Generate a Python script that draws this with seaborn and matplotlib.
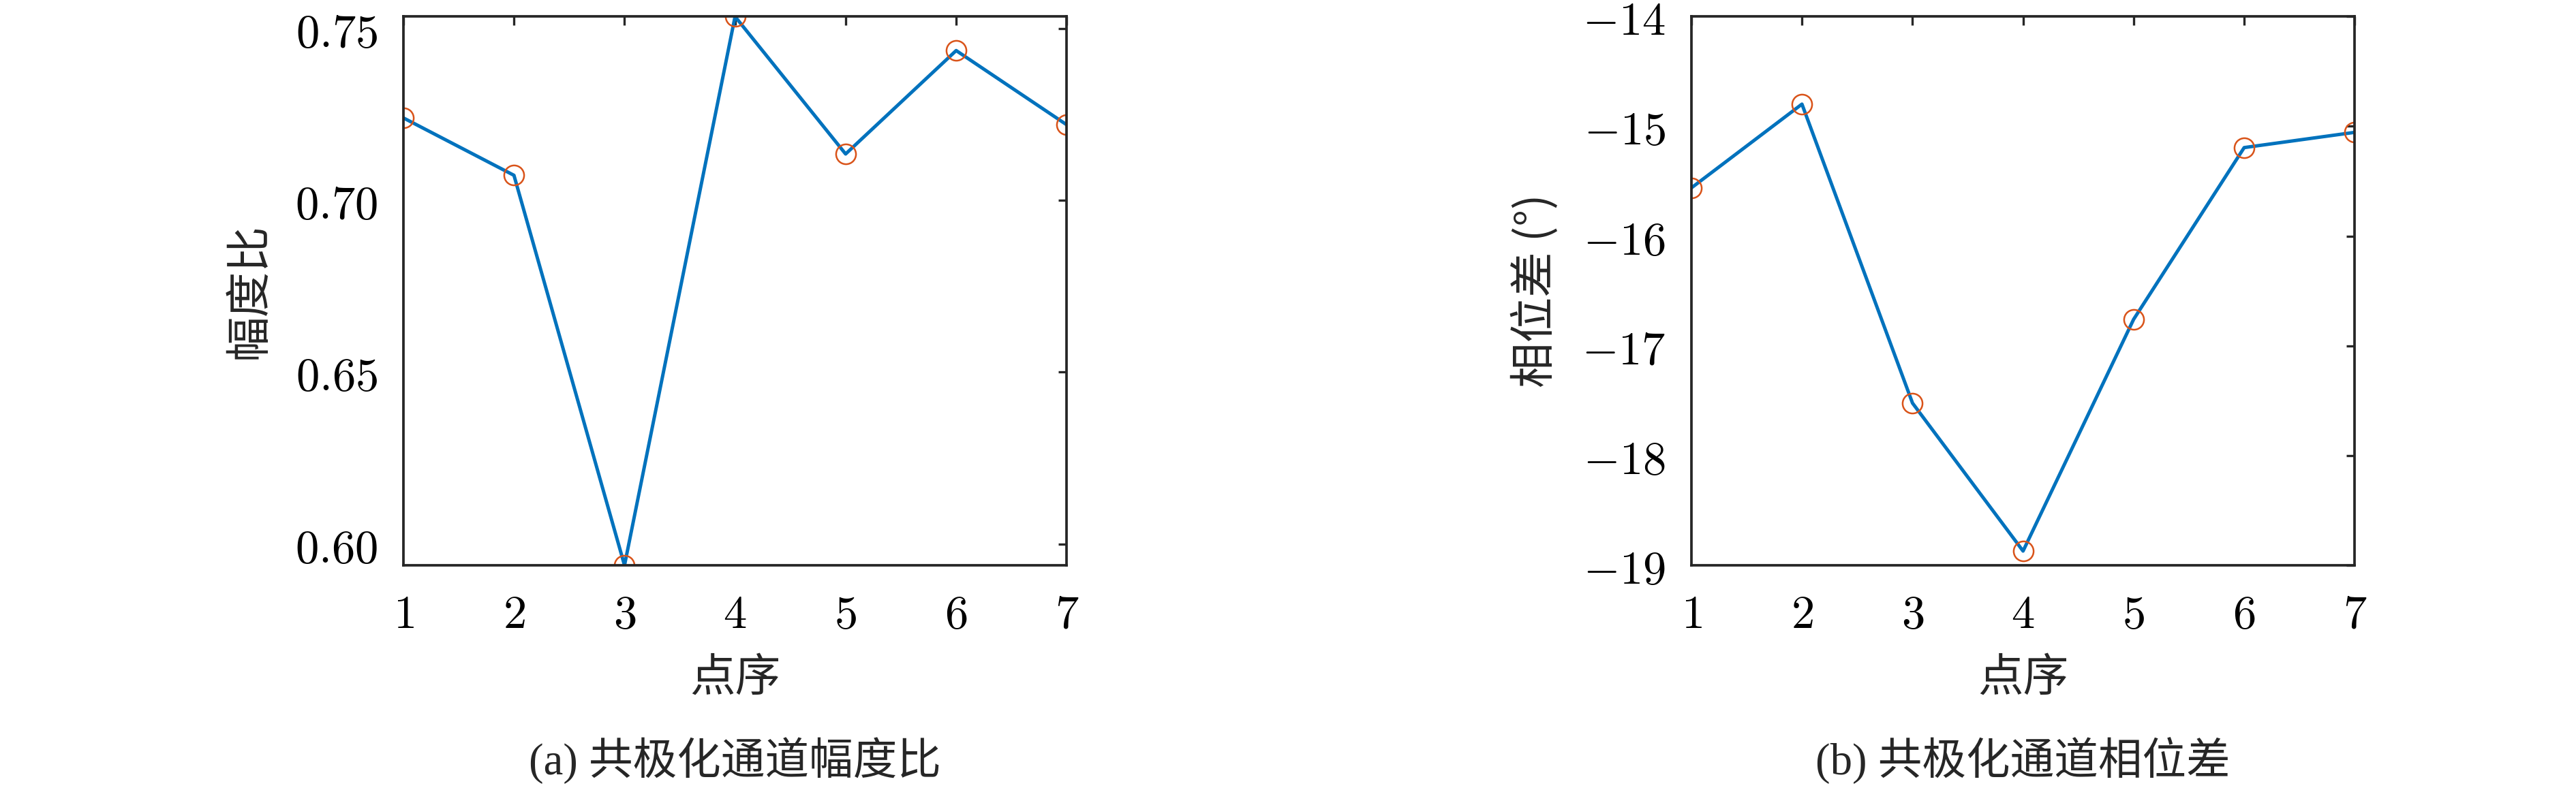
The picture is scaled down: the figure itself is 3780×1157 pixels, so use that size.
import matplotlib
matplotlib.use("Agg")
import matplotlib.pyplot as plt
import seaborn as sns
import pandas as pd

# DATA
points      = [1, 2, 3, 4, 5, 6, 7]
amp_ratio   = [0.724, 0.7073, 0.5938, 0.7535, 0.7135, 0.7436, 0.722]
phase_diff  = [-15.561, -14.798, -17.522, -18.870, -16.759, -15.194, -15.055]
amp_ticks   = [0.60, 0.65, 0.70, 0.75]
phase_ticks = [-19, -18, -17, -16, -15, -14]
x_label     = "点序"
amp_label   = "幅度比"
phase_label = "相位差 (°)"
captions    = ["(a) 共极化通道幅度比", "(b) 共极化通道相位差"]

sns.set_style("white")
plt.rcParams["font.family"] = ["Noto Sans CJK SC", "DejaVu Sans"]
plt.rcParams["mathtext.fontset"] = "cm"

LINE_C   = "#0072BD"
MARKER_C = "#D95319"
AX_C     = "#262626"

fig = plt.figure(figsize=(12.6, 3.8567), dpi=300)
ax1 = fig.add_axes([0.1566, 0.2826, 0.2575, 0.6964])
ax2 = fig.add_axes([0.6566, 0.2826, 0.2575, 0.6964])

df = pd.DataFrame({"x": points, "amp": amp_ratio, "phase": phase_diff})


def draw(ax, col, ylabel, yticks, ylim, fmt):
    sns.lineplot(data=df, x="x", y=col, ax=ax, color=LINE_C, linewidth=1.2,
                 marker="o", markersize=7, markerfacecolor="none",
                 markeredgecolor=MARKER_C, markeredgewidth=0.6)
    ax.set_xlim(points[0], points[-1])
    ax.set_ylim(*ylim)
    ax.set_xticks(points)
    ax.set_xticklabels([f"${p}$" for p in points])
    ax.set_yticks(yticks)
    ax.set_yticklabels([fmt(v) for v in yticks])
    ax.tick_params(direction="in", top=True, right=True, length=3, width=0.8,
                   color=AX_C, labelsize=16.5, pad=9, labelcolor="black")
    for s in ax.spines.values():
        s.set_color(AX_C)
        s.set_linewidth(0.9)
    ax.set_xlabel(x_label, fontsize=16, labelpad=6)
    ax.set_ylabel(ylabel, fontsize=16, labelpad=8)


draw(ax1, "amp", amp_label, amp_ticks, (min(amp_ratio), max(amp_ratio)),
     lambda v: f"${v:.2f}$")
draw(ax2, "phase", phase_label, phase_ticks, (phase_ticks[0], phase_ticks[-1]),
     lambda v: f"${v:d}$")

for ax, cap in zip([ax1, ax2], captions):
    pos = ax.get_position()
    fig.text((pos.x0 + pos.x1) / 2, 0.0346, cap, ha="center", va="center",
             fontsize=15.5, family=["Liberation Serif", "Noto Sans CJK SC"])

fig.savefig("out.png", dpi=300)
